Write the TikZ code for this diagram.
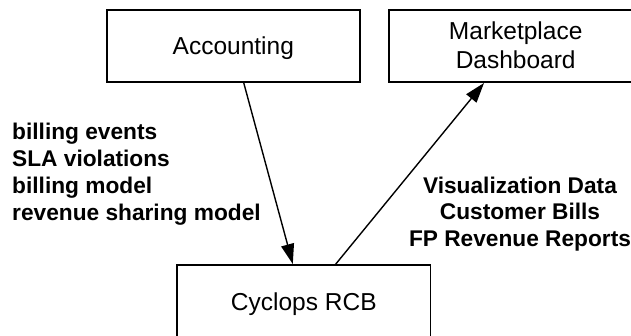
\documentclass[tikz,border=0pt]{standalone}
\usepackage{fontspec}
\setmainfont{Liberation Sans}
\usetikzlibrary{arrows.meta}
\begin{document}
\begin{tikzpicture}[x=1pt,y=-1pt,
  box/.style={draw,line width=1.7pt,minimum width=253.3pt,minimum height=72pt,
    inner sep=0pt,outer sep=0pt,font=\fontsize{24.5}{29.5}\selectfont,
    text height=18pt,text depth=0pt},
  flow/.style={line width=1.4pt,-{Triangle[length=20pt,width=13pt]}},
  lbl/.style={inner sep=0pt,font=\bfseries\fontsize{22.7}{26.7}\selectfont}]
\useasboundingbox (0,0) rectangle (631,336);

% components
\node[box] (acc) at (233.3,46) {Accounting};
\node[box,text height=46pt] (mkt) at (515.7,46)
  {\begin{tabular}[b]{@{}c@{}}Marketplace\\Dashboard\end{tabular}};
\node[box] (cyc) at (303.8,301) {Cyclops RCB};

% data flows
\draw[flow] ([xshift=10.2pt]acc.south) -- ([xshift=-11pt,yshift=1pt]cyc.north);
\draw[flow] ([xshift=31.2pt]cyc.north) -- ([xshift=-31.7pt,yshift=-1pt]mkt.south);

% flow labels
\node[lbl,anchor=base west] (inlbl) at (12,140)
  {\begin{tabular}[t]{@{}l@{}}billing events\\SLA violations\\billing model\\revenue sharing model\end{tabular}};
\node[lbl,anchor=base] (outlbl) at (520,193.3)
  {\begin{tabular}[t]{@{}c@{}}Visualization Data\\Customer Bills\\FP Revenue Reports\end{tabular}};
\end{tikzpicture}
\end{document}
